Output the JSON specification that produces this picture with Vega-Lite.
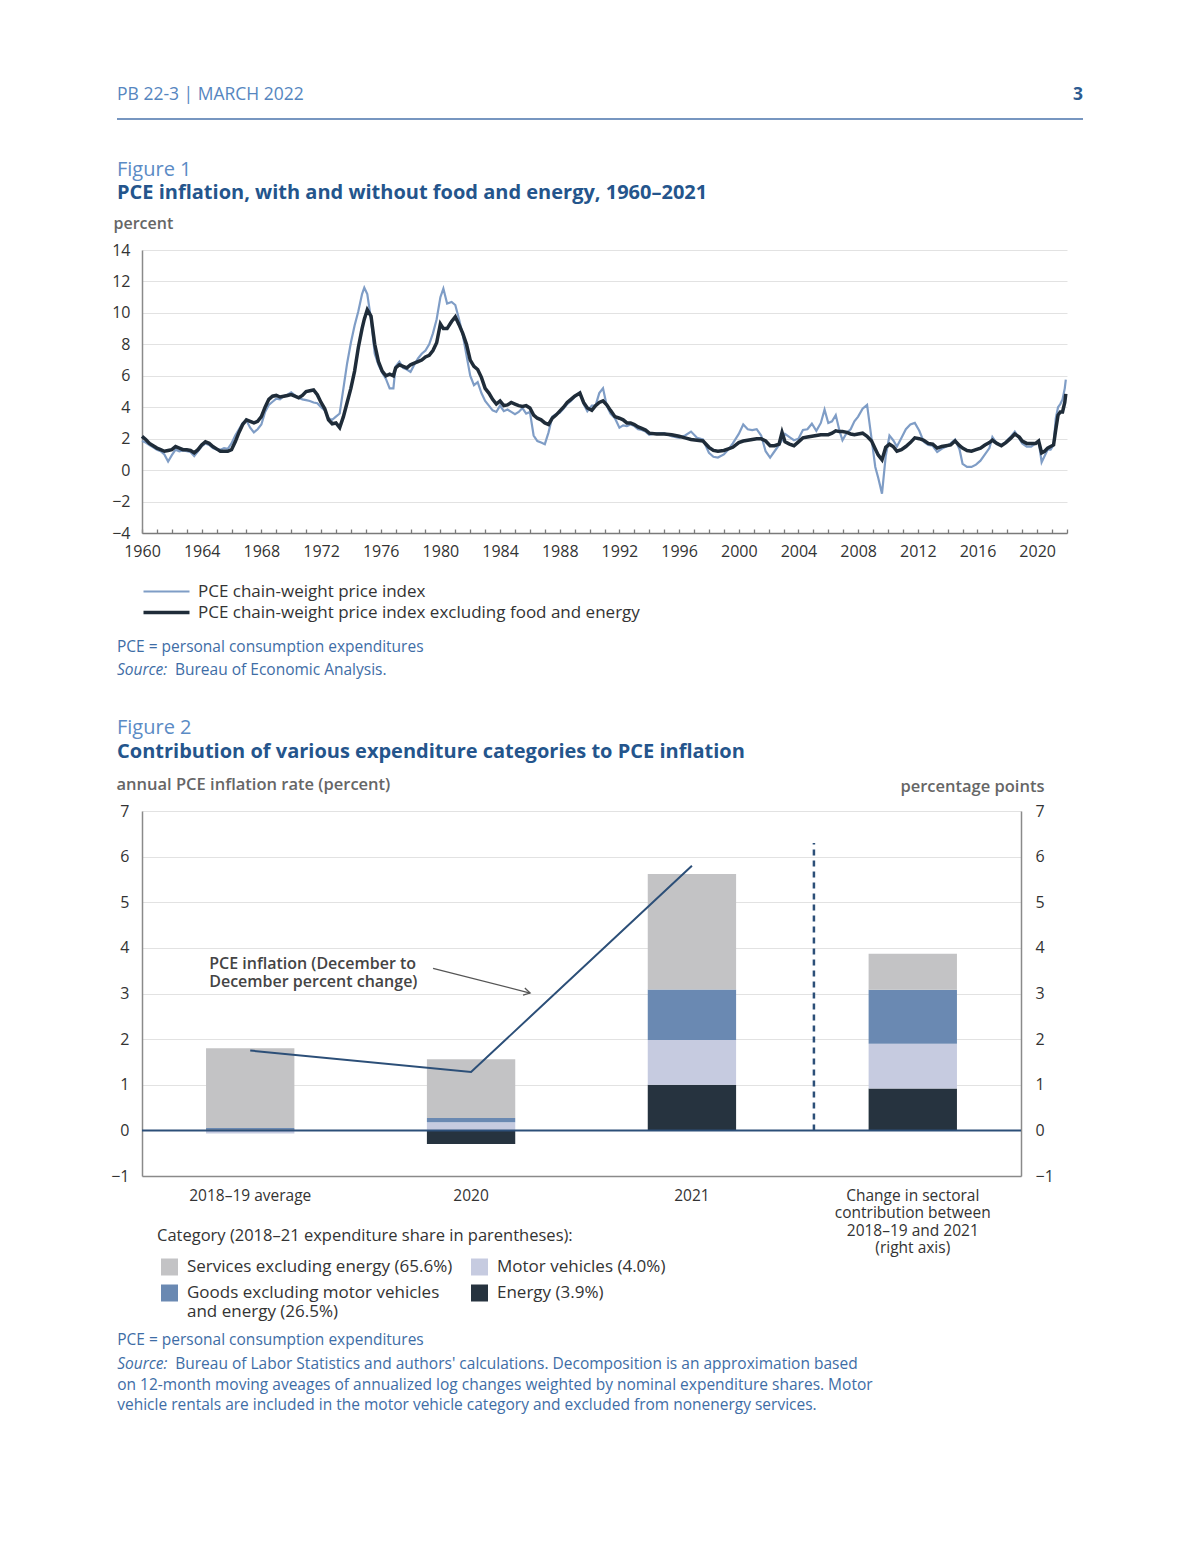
{
"$schema": "https://vega.github.io/schema/vega-lite/v6.json",
"background": "white",
"padding": {"left": 110, "top": 86, "right": 20, "bottom": 20},
"bounds": "flush",
"spacing": 278,
"resolve": {"scale": {"color": "independent"}, "legend": {"color": "independent"}},
"config": {"view": {"stroke": null}, "font": "Open Sans", "axis": {"labelFont": "Open Sans", "titleFont": "Open Sans"}, "legend": {"labelFont": "Open Sans", "titleFont": "Open Sans"}, "title": {"font": "Open Sans", "subtitleFont": "Open Sans"}, "text": {"font": "Open Sans"}},
"vconcat": [
{
"width": 925, "height": 283,
"data": {"values": [
{"t":1960.0,"c":2.15,"h":1.85},{"t":1960.25,"c":1.95,"h":1.75},{"t":1960.5,"c":1.7,"h":1.6},{"t":1960.75,"c":1.55,"h":1.45},
{"t":1961.0,"c":1.4,"h":1.3},{"t":1961.25,"c":1.3,"h":1.2},{"t":1961.5,"c":1.2,"h":1.0},{"t":1961.75,"c":1.25,"h":0.55},
{"t":1962.0,"c":1.3,"h":0.95},{"t":1962.25,"c":1.5,"h":1.3},{"t":1962.5,"c":1.4,"h":1.2},{"t":1962.75,"c":1.3,"h":1.25},
{"t":1963.0,"c":1.3,"h":1.2},{"t":1963.25,"c":1.25,"h":1.15},{"t":1963.5,"c":1.1,"h":0.9},{"t":1963.75,"c":1.3,"h":1.2},
{"t":1964.0,"c":1.6,"h":1.5},{"t":1964.25,"c":1.8,"h":1.7},{"t":1964.5,"c":1.7,"h":1.6},{"t":1964.75,"c":1.5,"h":1.4},
{"t":1965.0,"c":1.35,"h":1.3},{"t":1965.25,"c":1.2,"h":1.3},{"t":1965.5,"c":1.2,"h":1.4},{"t":1965.75,"c":1.2,"h":1.35},
{"t":1966.0,"c":1.3,"h":1.7},{"t":1966.25,"c":1.8,"h":2.2},{"t":1966.5,"c":2.4,"h":2.6},{"t":1966.75,"c":2.9,"h":3.0},
{"t":1967.0,"c":3.2,"h":3.15},{"t":1967.25,"c":3.1,"h":2.7},{"t":1967.5,"c":3.0,"h":2.4},{"t":1967.75,"c":3.1,"h":2.6},
{"t":1968.0,"c":3.4,"h":2.9},{"t":1968.25,"c":4.0,"h":3.7},{"t":1968.5,"c":4.5,"h":4.15},{"t":1968.75,"c":4.7,"h":4.35},
{"t":1969.0,"c":4.75,"h":4.55},{"t":1969.25,"c":4.65,"h":4.5},{"t":1969.5,"c":4.7,"h":4.7},{"t":1969.75,"c":4.75,"h":4.8},
{"t":1970.0,"c":4.8,"h":4.95},{"t":1970.25,"c":4.7,"h":4.75},{"t":1970.5,"c":4.6,"h":4.6},{"t":1970.75,"c":4.75,"h":4.5},
{"t":1971.0,"c":5.0,"h":4.45},{"t":1971.25,"c":5.05,"h":4.4},{"t":1971.5,"c":5.1,"h":4.3},{"t":1971.75,"c":4.8,"h":4.25},
{"t":1972.0,"c":4.3,"h":4.0},{"t":1972.25,"c":3.9,"h":3.8},{"t":1972.5,"c":3.2,"h":3.3},{"t":1972.75,"c":2.95,"h":3.2},
{"t":1973.0,"c":3.0,"h":3.4},{"t":1973.25,"c":2.7,"h":3.6},{"t":1973.5,"c":3.4,"h":5.2},{"t":1973.75,"c":4.3,"h":6.8},
{"t":1974.0,"c":5.2,"h":8.1},{"t":1974.25,"c":6.3,"h":9.2},{"t":1974.5,"c":7.8,"h":10.1},{"t":1974.75,"c":9.0,"h":11.2},
{"t":1974.9,"c":9.6,"h":11.6},{"t":1975.1,"c":10.2,"h":11.2},{"t":1975.35,"c":9.8,"h":9.6},{"t":1975.6,"c":8.0,"h":7.4},
{"t":1975.85,"c":6.9,"h":6.7},{"t":1976.1,"c":6.3,"h":6.2},{"t":1976.35,"c":6.0,"h":5.8},{"t":1976.6,"c":6.1,"h":5.2},
{"t":1976.85,"c":6.0,"h":5.2},{"t":1977.0,"c":6.5,"h":6.6},{"t":1977.25,"c":6.7,"h":6.9},{"t":1977.5,"c":6.6,"h":6.5},
{"t":1977.75,"c":6.5,"h":6.4},{"t":1978.0,"c":6.7,"h":6.25},{"t":1978.25,"c":6.8,"h":6.7},{"t":1978.5,"c":6.9,"h":7.1},
{"t":1978.75,"c":7.0,"h":7.4},{"t":1979.0,"c":7.2,"h":7.6},{"t":1979.25,"c":7.3,"h":8.0},{"t":1979.5,"c":7.6,"h":8.7},
{"t":1979.75,"c":8.1,"h":9.6},{"t":1980.0,"c":9.3,"h":11.0},{"t":1980.2,"c":9.0,"h":11.55},{"t":1980.45,"c":9.0,"h":10.6},
{"t":1980.75,"c":9.45,"h":10.7},{"t":1981.0,"c":9.75,"h":10.5},{"t":1981.25,"c":9.25,"h":9.6},{"t":1981.5,"c":8.7,"h":8.6},
{"t":1981.75,"c":8.0,"h":7.3},{"t":1982.0,"c":7.0,"h":6.0},{"t":1982.25,"c":6.6,"h":5.4},{"t":1982.5,"c":6.4,"h":5.6},
{"t":1982.75,"c":5.9,"h":4.9},{"t":1983.0,"c":5.2,"h":4.4},{"t":1983.25,"c":4.9,"h":4.1},{"t":1983.5,"c":4.5,"h":3.8},
{"t":1983.75,"c":4.2,"h":3.7},{"t":1984.0,"c":4.4,"h":4.1},{"t":1984.25,"c":4.1,"h":3.75},{"t":1984.5,"c":4.15,"h":3.85},
{"t":1984.75,"c":4.3,"h":3.7},{"t":1985.0,"c":4.2,"h":3.55},{"t":1985.25,"c":4.1,"h":3.7},{"t":1985.5,"c":4.05,"h":3.95},
{"t":1985.75,"c":4.1,"h":3.6},{"t":1986.0,"c":3.95,"h":3.7},{"t":1986.25,"c":3.5,"h":2.2},{"t":1986.5,"c":3.3,"h":1.85},
{"t":1986.75,"c":3.2,"h":1.75},{"t":1987.0,"c":3.0,"h":1.65},{"t":1987.25,"c":2.9,"h":2.4},{"t":1987.5,"c":3.3,"h":3.4},
{"t":1987.75,"c":3.5,"h":3.55},{"t":1988.0,"c":3.75,"h":3.65},{"t":1988.25,"c":4.0,"h":3.9},{"t":1988.5,"c":4.3,"h":4.2},
{"t":1988.75,"c":4.5,"h":4.4},{"t":1989.0,"c":4.7,"h":4.65},{"t":1989.35,"c":4.9,"h":4.95},{"t":1989.6,"c":4.3,"h":4.2},
{"t":1989.85,"c":3.95,"h":3.75},{"t":1990.15,"c":3.8,"h":4.1},{"t":1990.4,"c":4.1,"h":4.1},{"t":1990.65,"c":4.3,"h":4.9},
{"t":1990.9,"c":4.4,"h":5.2},{"t":1991.15,"c":4.15,"h":4.1},{"t":1991.4,"c":3.8,"h":3.6},{"t":1991.7,"c":3.4,"h":3.3},
{"t":1992.0,"c":3.3,"h":2.7},{"t":1992.25,"c":3.2,"h":2.85},{"t":1992.5,"c":3.0,"h":2.8},{"t":1992.75,"c":3.0,"h":2.9},
{"t":1993.0,"c":2.9,"h":2.8},{"t":1993.25,"c":2.75,"h":2.6},{"t":1993.5,"c":2.65,"h":2.55},{"t":1993.75,"c":2.55,"h":2.45},
{"t":1994.0,"c":2.35,"h":2.25},{"t":1994.5,"c":2.3,"h":2.35},{"t":1995.0,"c":2.3,"h":2.35},{"t":1995.5,"c":2.25,"h":2.15},
{"t":1996.0,"c":2.15,"h":2.05},{"t":1996.4,"c":2.05,"h":2.2},{"t":1996.8,"c":1.95,"h":2.45},{"t":1997.2,"c":1.9,"h":2.05},
{"t":1997.6,"c":1.85,"h":1.95},{"t":1998.0,"c":1.45,"h":1.1},{"t":1998.3,"c":1.25,"h":0.85},{"t":1998.6,"c":1.2,"h":0.8},
{"t":1999.0,"c":1.25,"h":1.0},{"t":1999.3,"c":1.35,"h":1.3},{"t":1999.6,"c":1.45,"h":1.7},{"t":2000.0,"c":1.75,"h":2.3},
{"t":2000.3,"c":1.85,"h":2.9},{"t":2000.6,"c":1.9,"h":2.6},{"t":2000.9,"c":1.95,"h":2.55},{"t":2001.2,"c":2.0,"h":2.6},
{"t":2001.5,"c":2.0,"h":2.2},{"t":2001.8,"c":1.85,"h":1.2},{"t":2002.1,"c":1.55,"h":0.8},{"t":2002.4,"c":1.55,"h":1.2},
{"t":2002.7,"c":1.65,"h":1.6},{"t":2002.9,"c":2.4,"h":1.9},{"t":2003.1,"c":1.8,"h":2.3},{"t":2003.4,"c":1.65,"h":2.1},
{"t":2003.7,"c":1.55,"h":1.9},{"t":2004.0,"c":1.8,"h":2.0},{"t":2004.3,"c":2.05,"h":2.55},{"t":2004.6,"c":2.1,"h":2.6},
{"t":2004.9,"c":2.15,"h":2.95},{"t":2005.2,"c":2.2,"h":2.5},{"t":2005.5,"c":2.25,"h":3.0},{"t":2005.75,"c":2.25,"h":3.85},
{"t":2006.0,"c":2.25,"h":3.0},{"t":2006.25,"c":2.35,"h":3.1},{"t":2006.5,"c":2.5,"h":3.5},{"t":2006.75,"c":2.45,"h":2.5},
{"t":2006.95,"c":2.45,"h":1.9},{"t":2007.25,"c":2.4,"h":2.4},{"t":2007.5,"c":2.3,"h":2.6},{"t":2007.75,"c":2.25,"h":3.1},
{"t":2008.0,"c":2.3,"h":3.4},{"t":2008.3,"c":2.35,"h":3.9},{"t":2008.6,"c":2.15,"h":4.15},{"t":2008.9,"c":1.85,"h":2.0},
{"t":2009.15,"c":1.35,"h":0.2},{"t":2009.35,"c":0.95,"h":-0.5},{"t":2009.6,"c":0.65,"h":-1.5},{"t":2009.85,"c":1.45,"h":0.9},
{"t":2010.1,"c":1.65,"h":2.2},{"t":2010.35,"c":1.5,"h":1.9},{"t":2010.6,"c":1.2,"h":1.5},{"t":2010.9,"c":1.3,"h":2.05},
{"t":2011.2,"c":1.5,"h":2.6},{"t":2011.5,"c":1.75,"h":2.9},{"t":2011.8,"c":2.05,"h":3.0},{"t":2012.1,"c":2.0,"h":2.5},
{"t":2012.4,"c":1.9,"h":1.8},{"t":2012.7,"c":1.7,"h":1.6},{"t":2013.0,"c":1.65,"h":1.55},{"t":2013.3,"c":1.4,"h":1.15},
{"t":2013.6,"c":1.5,"h":1.35},{"t":2013.9,"c":1.55,"h":1.5},{"t":2014.2,"c":1.6,"h":1.7},{"t":2014.5,"c":1.85,"h":1.95},
{"t":2014.8,"c":1.55,"h":1.3},{"t":2015.0,"c":1.4,"h":0.4},{"t":2015.3,"c":1.25,"h":0.2},{"t":2015.6,"c":1.2,"h":0.2},
{"t":2015.9,"c":1.3,"h":0.35},{"t":2016.2,"c":1.4,"h":0.6},{"t":2016.5,"c":1.6,"h":1.0},{"t":2016.8,"c":1.75,"h":1.4},
{"t":2017.0,"c":1.9,"h":2.1},{"t":2017.3,"c":1.7,"h":1.7},{"t":2017.6,"c":1.55,"h":1.6},{"t":2017.9,"c":1.75,"h":1.8},
{"t":2018.2,"c":2.0,"h":2.1},{"t":2018.5,"c":2.3,"h":2.45},{"t":2018.8,"c":2.1,"h":2.0},{"t":2019.0,"c":1.85,"h":1.7},
{"t":2019.3,"c":1.7,"h":1.5},{"t":2019.6,"c":1.7,"h":1.5},{"t":2019.9,"c":1.7,"h":1.7},{"t":2020.1,"c":1.85,"h":1.85},
{"t":2020.3,"c":1.1,"h":0.5},{"t":2020.5,"c":1.2,"h":0.9},{"t":2020.7,"c":1.4,"h":1.3},{"t":2020.9,"c":1.5,"h":1.3},
{"t":2021.1,"c":1.6,"h":1.6},{"t":2021.25,"c":2.6,"h":3.3},{"t":2021.4,"c":3.5,"h":4.0},{"t":2021.55,"c":3.7,"h":4.2},
{"t":2021.7,"c":3.7,"h":4.5},{"t":2021.85,"c":4.3,"h":5.2},{"t":2021.92,"c":4.85,"h":5.75}
]},
"layer": [
{"mark": {"type": "line", "strokeWidth": 2.2},
 "encoding": {
  "x": {"field": "t", "type": "quantitative", "scale": {"domain": [1960, 2022], "nice": false, "zero": false},
        "axis": {"orient": "bottom", "title": null, "values": [1960,1961,1962,1963,1964,1965,1966,1967,1968,1969,1970,1971,1972,1973,1974,1975,1976,1977,1978,1979,1980,1981,1982,1983,1984,1985,1986,1987,1988,1989,1990,1991,1992,1993,1994,1995,1996,1997,1998,1999,2000,2001,2002,2003,2004,2005,2006,2007,2008,2009,2010,2011,2012,2013,2014,2015,2016,2017,2018,2019,2020,2021,2022],
                 "format": "d", "labelExpr": "(datum.value % 4 === 0 && datum.value <= 2020) ? datum.label : ''",
                 "ticks": true, "tickSize": -4, "tickColor": "#7a7a7a", "tickWidth": 1.3,
                 "domain": true, "domainColor": "#7a7a7a", "domainWidth": 1.5, "grid": false,
                 "labelPadding": 14, "labelFontSize": 16, "labelColor": "#333333", "labelOverlap": false, "labelFlush": false,
                 "encode": {"ticks": {"update": {"y2": {"signal": "datum.value % 4 === 0 ? -8 : -4"}}}}}},
  "y": {"field": "h", "type": "quantitative", "scale": {"domain": [-4, 14], "nice": false, "zero": false},
        "axis": {"orient": "left", "title": "percent", "values": [-4,-2,0,2,4,6,8,10,12,14], "grid": true, "gridColor": "#e2e2e2", "gridWidth": 1,
                 "ticks": false, "domain": true, "domainColor": "#8a8a8a", "domainWidth": 1.5,
                 "labelPadding": 12, "labelFontSize": 16, "labelColor": "#333333",
                 "titleAngle": 0, "titleAlign": "left", "titleBaseline": "middle", "titleX": -29, "titleY": -27,
                 "titleFontSize": 16, "titleFontWeight": 600, "titleColor": "#666666"}},
  "color": {"datum": "PCE chain-weight price index", "type": "nominal",
            "scale": {"domain": ["PCE chain-weight price index", "PCE chain-weight price index excluding food and energy"], "range": ["#7f9dc6", "#1f2c39"]},
            "legend": {"orient": "none", "legendX": 0, "legendY": 333, "title": null, "symbolType": "stroke", "symbolSize": 2116, "symbolStrokeWidth": 2,
                       "symbolOffset": 16, "labelFontSize": 17, "labelColor": "#333333", "labelOffset": 23, "rowPadding": 3, "labelLimit": 700,
                       "encode": {"symbols": {"update": {"strokeWidth": {"signal": "datum.value === 'PCE chain-weight price index' ? 2 : 3.5"}}}}}}
 }},
{"mark": {"type": "line", "strokeWidth": 3.5},
 "encoding": {
  "x": {"field": "t", "type": "quantitative", "axis": null},
  "y": {"field": "c", "type": "quantitative", "axis": null},
  "color": {"datum": "PCE chain-weight price index excluding food and energy", "type": "nominal"}
 }},
{"data": {"values": [{"label": "PB 22-3  |  MARCH 2022"}]},
 "mark": {"type": "text", "align": "left", "baseline": "middle", "dx": -25, "dy": -155, "fontSize": 17.5, "color": "#5686c0"},
 "encoding": {"x": {"datum": 1960, "type": "quantitative", "axis": null}, "y": {"datum": 14, "type": "quantitative", "axis": null}, "text": {"field": "label"}}},
{"data": {"values": [{"label": "3"}]},
 "mark": {"type": "text", "align": "right", "baseline": "middle", "dx": 16, "dy": -155, "fontSize": 17.5, "fontWeight": "bold", "color": "#2c5b91"},
 "encoding": {"x": {"datum": 2022, "type": "quantitative", "axis": null}, "y": {"datum": 14, "type": "quantitative", "axis": null}, "text": {"field": "label"}}},
{"data": {"values": [{}]},
 "mark": {"type": "rule", "color": "#7796c0", "strokeWidth": 2, "xOffset": -25, "x2Offset": 16, "yOffset": -131},
 "encoding": {"x": {"datum": 1960, "type": "quantitative", "axis": null}, "x2": {"datum": 2022}, "y": {"datum": 14, "type": "quantitative", "axis": null}}},
{"data": {"values": [{"label": "Figure 1"}]},
 "mark": {"type": "text", "align": "left", "baseline": "middle", "dx": -25, "dy": -80, "fontSize": 20, "color": "#5b8bc5"},
 "encoding": {"x": {"datum": 1960, "type": "quantitative", "axis": null}, "y": {"datum": 14, "type": "quantitative", "axis": null}, "text": {"field": "label"}}},
{"data": {"values": [{"label": "PCE inflation, with and without food and energy, 1960–2021"}]},
 "mark": {"type": "text", "align": "left", "baseline": "middle", "dx": -25, "dy": -57, "fontSize": 20, "fontWeight": "bold", "color": "#24558c"},
 "encoding": {"x": {"datum": 1960, "type": "quantitative", "axis": null}, "y": {"datum": 14, "type": "quantitative", "axis": null}, "text": {"field": "label"}}},
{"data": {"values": [{"label": "PCE = personal consumption expenditures"}]},
 "mark": {"type": "text", "align": "left", "baseline": "middle", "dx": -25, "dy": 114, "fontSize": 15.5, "color": "#3e6da6"},
 "encoding": {"x": {"datum": 1960, "type": "quantitative", "axis": null}, "y": {"datum": -4, "type": "quantitative", "axis": null}, "text": {"field": "label"}}},
{"data": {"values": [{"label": "Source:"}]},
 "mark": {"type": "text", "align": "left", "baseline": "middle", "dx": -25, "dy": 137, "fontSize": 15.5, "fontStyle": "italic", "color": "#3e6da6"},
 "encoding": {"x": {"datum": 1960, "type": "quantitative", "axis": null}, "y": {"datum": -4, "type": "quantitative", "axis": null}, "text": {"field": "label"}}},
{"data": {"values": [{"label": "Bureau of Economic Analysis."}]},
 "mark": {"type": "text", "align": "left", "baseline": "middle", "dx": 33, "dy": 137, "fontSize": 15.5, "color": "#3e6da6"},
 "encoding": {"x": {"datum": 1960, "type": "quantitative", "axis": null}, "y": {"datum": -4, "type": "quantitative", "axis": null}, "text": {"field": "label"}}}
],
"resolve": {"axis": {"x": "independent", "y": "independent"}}
},
{
"width": 879, "height": 365,
"title": {"text": "Figure 2", "subtitle": "Contribution of various expenditure categories to PCE inflation", "anchor": "start", "frame": "group", "dx": -25, "offset": 14, "fontSize": 20, "fontWeight": "normal", "color": "#5b8bc5", "subtitleFontSize": 20, "subtitleFontWeight": "bold", "subtitleColor": "#24558c", "subtitlePadding": 4},
"layer": [
{"layer": [
 {"data": {"values": [
  {"period": "2018–19 average", "cat": "Energy (3.9%)", "share": 3.9, "v": 0.02},
  {"period": "2018–19 average", "cat": "Motor vehicles (4.0%)", "share": 4.0, "v": -0.07},
  {"period": "2018–19 average", "cat": "Goods excluding motor vehicles and energy (26.5%)", "share": 26.5, "v": 0.03},
  {"period": "2018–19 average", "cat": "Services excluding energy (65.6%)", "share": 65.6, "v": 1.75},
  {"period": "2020", "cat": "Energy (3.9%)", "share": 3.9, "v": -0.3},
  {"period": "2020", "cat": "Motor vehicles (4.0%)", "share": 4.0, "v": 0.18},
  {"period": "2020", "cat": "Goods excluding motor vehicles and energy (26.5%)", "share": 26.5, "v": 0.09},
  {"period": "2020", "cat": "Services excluding energy (65.6%)", "share": 65.6, "v": 1.29},
  {"period": "2021", "cat": "Energy (3.9%)", "share": 3.9, "v": 1.0},
  {"period": "2021", "cat": "Motor vehicles (4.0%)", "share": 4.0, "v": 0.98},
  {"period": "2021", "cat": "Goods excluding motor vehicles and energy (26.5%)", "share": 26.5, "v": 1.11},
  {"period": "2021", "cat": "Services excluding energy (65.6%)", "share": 65.6, "v": 2.53},
  {"period": "Change in sectoral contribution between 2018–19 and 2021 (right axis)", "cat": "Energy (3.9%)", "share": 3.9, "v": 0.92},
  {"period": "Change in sectoral contribution between 2018–19 and 2021 (right axis)", "cat": "Motor vehicles (4.0%)", "share": 4.0, "v": 0.98},
  {"period": "Change in sectoral contribution between 2018–19 and 2021 (right axis)", "cat": "Goods excluding motor vehicles and energy (26.5%)", "share": 26.5, "v": 1.18},
  {"period": "Change in sectoral contribution between 2018–19 and 2021 (right axis)", "cat": "Services excluding energy (65.6%)", "share": 65.6, "v": 0.79}
 ]},
 "mark": {"type": "bar"},
 "encoding": {
  "x": {"field": "period", "type": "nominal",
        "scale": {"domain": ["2018–19 average", "2020", "2021", "Change in sectoral contribution between 2018–19 and 2021 (right axis)"], "paddingInner": 0.6, "paddingOuter": 0.29},
        "axis": {"orient": "bottom", "title": null, "ticks": false, "domain": true, "domainColor": "#8a8a8a", "domainWidth": 1.5, "grid": false,
                 "labelAngle": 0, "labelPadding": 12, "labelFontSize": 15.5, "labelColor": "#333333", "labelLineHeight": 17.5, "labelLimit": 400,
                 "labelExpr": "datum.label == 'Change in sectoral contribution between 2018–19 and 2021 (right axis)' ? ['Change in sectoral', 'contribution between', '2018–19 and 2021', '(right axis)'] : datum.label",
                 "encode": {"labels": {"update": {"dx": {"signal": "datum.value == '2018–19 average' ? -14 : 0"}}}}}},
  "y": {"field": "v", "type": "quantitative", "stack": "zero", "scale": {"domain": [-1, 7], "nice": false, "zero": false},
        "axis": {"orient": "left", "title": "annual PCE inflation rate (percent)", "values": [-1,0,1,2,3,4,5,6,7], "grid": true, "gridColor": "#e2e2e2",
                 "ticks": false, "domain": true, "domainColor": "#8a8a8a", "domainWidth": 1.5,
                 "labelPadding": 13, "labelFontSize": 16, "labelColor": "#333333",
                 "titleAngle": 0, "titleAlign": "left", "titleBaseline": "middle", "titleX": -26, "titleY": -27,
                 "titleFontSize": 16.5, "titleFontWeight": 600, "titleColor": "#666666"}},
  "color": {"field": "cat", "type": "nominal",
            "scale": {"domain": ["Services excluding energy (65.6%)", "Goods excluding motor vehicles and energy (26.5%)", "Motor vehicles (4.0%)", "Energy (3.9%)"],
                      "range": ["#c3c3c5", "#6a89b2", "#c6cbe0", "#26333f"]},
            "legend": {"orient": "none", "legendX": 15, "legendY": 417, "title": "Category (2018–21 expenditure share in parentheses):",
                       "titleFontSize": 16.5, "titleFontWeight": "normal", "titleColor": "#333333", "titlePadding": 14, "titleLimit": 700,
                       "columns": 2, "columnPadding": 14, "rowPadding": 8,
                       "symbolType": "square", "symbolSize": 289, "symbolStrokeWidth": 0, "symbolOffset": 4, "symbolOpacity": 1,
                       "labelFontSize": 17, "labelColor": "#333333", "labelOffset": 9, "labelLimit": 450,
                       "labelExpr": "datum.label == 'Goods excluding motor vehicles and energy (26.5%)' ? ['Goods excluding motor vehicles', 'and energy (26.5%)'] : datum.label"}},
  "order": {"field": "share", "sort": "ascending"}
 }},
 {"data": {"values": [{"period": "2018–19 average", "pce": 1.75}, {"period": "2020", "pce": 1.28}, {"period": "2021", "pce": 5.8}]},
  "mark": {"type": "line", "color": "#2c4f78", "strokeWidth": 2},
  "encoding": {"x": {"field": "period", "type": "nominal", "axis": null}, "y": {"field": "pce", "type": "quantitative", "axis": null}}},
 {"data": {"values": [{}]},
  "mark": {"type": "rule", "color": "#2c4f78", "strokeWidth": 2.5, "strokeDash": [6, 5], "xOffset": 122},
  "encoding": {"x": {"datum": "2021", "type": "nominal", "axis": null}, "y": {"datum": 0, "type": "quantitative", "axis": null}, "y2": {"datum": 6.3}}},
 {"data": {"values": [{"label": "PCE inflation (December to\nDecember percent change)"}]},
  "mark": {"type": "text", "align": "left", "baseline": "top", "lineBreak": "\n", "lineHeight": 18, "dx": -41, "fontSize": 16, "fontWeight": 600, "color": "#444444"},
  "encoding": {"x": {"datum": "2018–19 average", "type": "nominal", "axis": null}, "y": {"datum": 3.82, "type": "quantitative", "axis": null}, "text": {"field": "label"}}},
 {"data": {"values": [{}]},
  "mark": {"type": "rule", "color": "#555555", "strokeWidth": 1.3, "xOffset": -38, "x2Offset": 59},
  "encoding": {"x": {"datum": "2020", "type": "nominal", "axis": null}, "x2": {"datum": "2020"}, "y": {"datum": 3.55, "type": "quantitative", "axis": null}, "y2": {"datum": 3.01}}},
 {"data": {"values": [{}]},
  "mark": {"type": "point", "shape": "M-1.2,-0.7L0,0L-1.2,0.7", "filled": false, "stroke": "#555555", "strokeWidth": 1.3, "size": 110, "angle": 14, "xOffset": 59, "opacity": 1},
  "encoding": {"x": {"datum": "2020", "type": "nominal", "axis": null}, "y": {"datum": 3.01, "type": "quantitative", "axis": null}}},
 {"data": {"values": [{"label": "PCE = personal consumption expenditures"}]},
  "mark": {"type": "text", "align": "left", "baseline": "middle", "dx": -133, "dy": 164, "fontSize": 15.5, "color": "#3e6da6"},
  "encoding": {"x": {"datum": "2018–19 average", "type": "nominal", "axis": null}, "y": {"datum": -1, "type": "quantitative", "axis": null}, "text": {"field": "label"}}},
 {"data": {"values": [{"label": "Source:"}]},
  "mark": {"type": "text", "align": "left", "baseline": "middle", "dx": -133, "dy": 188, "fontSize": 15.5, "fontStyle": "italic", "color": "#3e6da6"},
  "encoding": {"x": {"datum": "2018–19 average", "type": "nominal", "axis": null}, "y": {"datum": -1, "type": "quantitative", "axis": null}, "text": {"field": "label"}}},
 {"data": {"values": [{"label": "Bureau of Labor Statistics and authors' calculations. Decomposition is an approximation based"}]},
  "mark": {"type": "text", "align": "left", "baseline": "middle", "dx": -75, "dy": 188, "fontSize": 15.5, "color": "#3e6da6"},
  "encoding": {"x": {"datum": "2018–19 average", "type": "nominal", "axis": null}, "y": {"datum": -1, "type": "quantitative", "axis": null}, "text": {"field": "label"}}},
 {"data": {"values": [{"label": "on 12-month moving aveages of annualized log changes weighted by nominal expenditure shares. Motor"}]},
  "mark": {"type": "text", "align": "left", "baseline": "middle", "dx": -133, "dy": 209, "fontSize": 15.5, "color": "#3e6da6"},
  "encoding": {"x": {"datum": "2018–19 average", "type": "nominal", "axis": null}, "y": {"datum": -1, "type": "quantitative", "axis": null}, "text": {"field": "label"}}},
 {"data": {"values": [{"label": "vehicle rentals are included in the motor vehicle category and excluded from nonenergy services."}]},
  "mark": {"type": "text", "align": "left", "baseline": "middle", "dx": -133, "dy": 229, "fontSize": 15.5, "color": "#3e6da6"},
  "encoding": {"x": {"datum": "2018–19 average", "type": "nominal", "axis": null}, "y": {"datum": -1, "type": "quantitative", "axis": null}, "text": {"field": "label"}}}
 ],
 "resolve": {"axis": {"x": "independent", "y": "independent"}}
},
{"data": {"values": [{}]},
 "mark": {"type": "rule", "color": "#2c4f78", "strokeWidth": 2},
 "encoding": {"y": {"datum": 0, "type": "quantitative", "scale": {"domain": [-1, 7], "nice": false, "zero": false},
   "axis": {"orient": "right", "title": "percentage points", "values": [-1,0,1,2,3,4,5,6,7], "grid": false, "ticks": false,
            "domain": true, "domainColor": "#8a8a8a", "domainWidth": 1.5, "labelPadding": 14, "labelFontSize": 16, "labelColor": "#333333",
            "titleAngle": 0, "titleAlign": "right", "titleBaseline": "middle", "titleX": 23, "titleY": -25,
            "titleFontSize": 16.5, "titleFontWeight": 600, "titleColor": "#666666"}}}}
],
"resolve": {"scale": {"y": "independent"}}
}
]
}
